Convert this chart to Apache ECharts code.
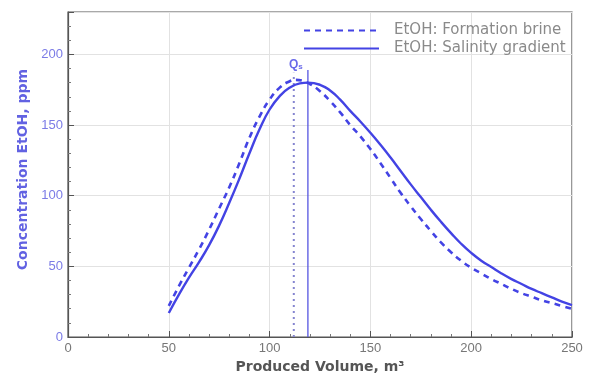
<!DOCTYPE html>
<html><head><meta charset="utf-8">
<script src="https://cdn.jsdelivr.net/npm/echarts@6/dist/echarts.min.js"></script>
<style>html,body{margin:0;padding:0;background:#fff}#c{width:592px;height:374px}</style>
</head><body><div id="c"></div>
<script>
var brineX = [50,55,60,65,70,75,80,85,90,95,100,105,110,113,116,120,125,130,135,140,145,150,155,160,165,170,175,180,185,190,195,200,205,210,215,220,225,230,235,240,245,250];
var brineY = [22,36,49,62,76,91,106,123,141,156,168,176.5,181,182,181.5,179,174,167,159,150,142,133,123,112.5,102,92.5,83.5,75,67,60,54,49,45,41,37.5,34,31,28.5,26,24,22,20];
var gradX = [50,55,60,65,70,75,80,85,90,95,100,105,110,115,119,125,130,135,140,145,150,155,160,165,170,175,180,185,190,195,200,205,210,215,220,225,230,235,240,245,250];
var gradY = [17,30,42,53,65,79,95,112,130,147,161,170.5,176.5,179.5,180,178.5,174.5,168,160,152.5,144.5,136,127,117.5,108,99,90,81.5,73.5,66,59.5,54,49.5,45,41,37.5,34,31,28,25,22.5];
var peakBrine = [[112,0],[112,187]];
var peakGrad = [[119,0],[119,189]];
var qLabel = [[113,193]];
var xTicks = [0,50,100,150,200,250];
var yTicks = [0,50,100,150,200];
var names = ['EtOH: Formation brine','EtOH: Salinity gradient'];

function pairs(xs, ys){ return xs.map(function(x,i){return [x, ys[i]];}); }
var blue = '#4343e4';
var font = 'Liberation Sans';
var chart = echarts.init(document.getElementById('c'), null, {renderer:'canvas'});
chart.setOption({
  animation:false,
  textStyle:{fontFamily:font},
  grid:{left:68,right:20,top:12,bottom:37,show:true,borderColor:'#555',borderWidth:1.2,outerBoundsMode:'none',containLabel:false},
  legend:{
    left:303, top:23, orient:'vertical', itemGap:3, itemWidth:75, itemHeight:12,
    itemStyle:{opacity:0},
    data:names, textStyle:{color:'#8a8a8a',fontSize:15,lineHeight:12,height:12,fontFamily:'DejaVu Sans',padding:[0,0,0,10]}, padding:0
  },
  xAxis:{
    type:'value', min:0, max:250, interval:50,
    name:'Produced Volume, m³', nameLocation:'middle', nameGap:21,
    nameTextStyle:{color:'#555',fontSize:14,fontWeight:'bold',fontFamily:'DejaVu Sans'},
    axisLine:{lineStyle:{color:'#555',width:1.2}},
    axisTick:{inside:true,length:6,lineStyle:{color:'#555'}},
    minorTick:{show:true,splitNumber:5,length:3,lineStyle:{color:'#777'}},
    axisLabel:{color:'#777',fontSize:13,margin:5,formatter:function(v){return xTicks.indexOf(v)>=0?String(v):'';}},
    splitLine:{show:true,lineStyle:{color:'#e2e2e2'}}
  },
  yAxis:{
    type:'value', min:0, max:230, interval:50,
    name:'Concentration EtOH, ppm', nameLocation:'middle', nameGap:37,
    nameTextStyle:{color:'#6262e2',fontSize:14,fontWeight:'bold',fontFamily:'DejaVu Sans',padding:[0,0,0,10]},
    axisLine:{lineStyle:{color:'#555',width:1.2}},
    axisTick:{inside:true,length:6,lineStyle:{color:'#555'}},
    minorTick:{show:true,splitNumber:5,length:3,lineStyle:{color:'#777'}},
    axisLabel:{color:'#7b7be6',fontSize:13,margin:5,formatter:function(v){return yTicks.indexOf(v)>=0?String(v):'';}},
    splitLine:{show:true,lineStyle:{color:'#e2e2e2'}}
  },
  series:[
    {name:names[0],type:'line',data:pairs(brineX,brineY),smooth:0.5,symbol:'none',
     lineStyle:{color:blue,width:2.6,type:[6,5]},itemStyle:{color:blue},z:3},
    {name:names[1],type:'line',data:pairs(gradX,gradY),smooth:0.5,symbol:'none',
     lineStyle:{color:blue,width:2.4,type:'solid'},itemStyle:{color:blue},z:3},
    {type:'line',data:peakBrine,symbol:'none',lineStyle:{color:'#8585d0',width:2,type:[2,4]},z:2},
    {type:'line',data:peakGrad,symbol:'none',lineStyle:{color:'#5555e0',width:1.3},z:2},
    {type:'scatter',data:qLabel,symbolSize:0,
     label:{show:true,position:'inside',formatter:'{q|Q}{s|s}',
       rich:{q:{color:blue,fontSize:12,fontWeight:'bold',fontFamily:font},
             s:{color:blue,fontSize:8,fontWeight:'bold',fontFamily:font,verticalAlign:'bottom',padding:[6,0,0,0]}}}}
  ]
});
</script></body></html>
